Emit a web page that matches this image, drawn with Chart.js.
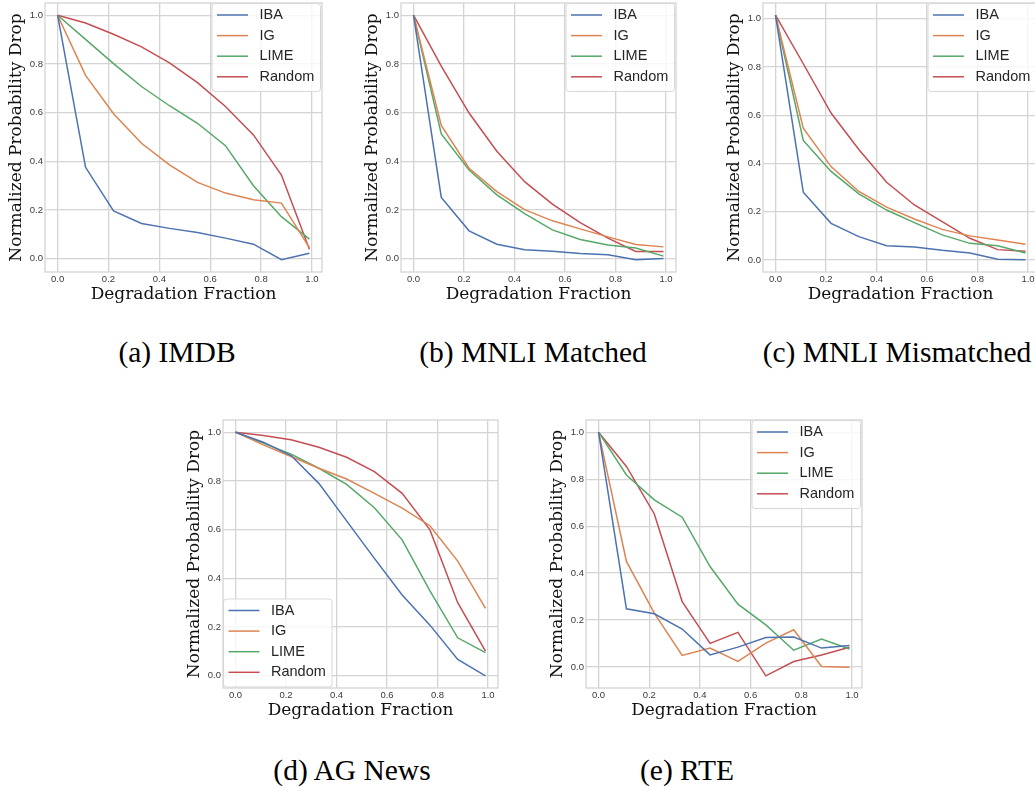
<!DOCTYPE html>
<html lang="en">
<head>
<meta charset="utf-8">
<script src="https://cdn.jsdelivr.net/npm/chart.js@4.4.1/dist/chart.umd.min.js"></script>
<style>
    html, body {margin:0; padding:0; background:#fff; overflow:hidden;}
    body {width:1035px; height:786px; position:relative;}
    canvas {position:absolute;}
    .caption {position:absolute; font-family:"Liberation Serif", serif; font-size:29.5px; color:#000;
              white-space:nowrap; transform:translate(-50%, -50%);}
</style>
</head>
<body>

<script type="text/javascript">
'use strict';

var fractions = [0, 0.11, 0.22, 0.33, 0.44, 0.55, 0.66, 0.77, 0.88, 0.99];
var methods = ['IBA', 'IG', 'LIME', 'Random'];
var tickValues = [0, 0.2, 0.4, 0.6, 0.8, 1.0];

var imdbIBA    = [1.0, 0.375, 0.196, 0.144, 0.124, 0.107, 0.084, 0.059, -0.005, 0.022];
var imdbIG     = [1.0, 0.753, 0.595, 0.474, 0.385, 0.313, 0.269, 0.242, 0.228, 0.045];
var imdbLIME   = [1.0, 0.901, 0.801, 0.707, 0.628, 0.556, 0.464, 0.299, 0.172, 0.080];
var imdbRandom = [1.0, 0.968, 0.922, 0.870, 0.804, 0.723, 0.625, 0.508, 0.343, 0.038];

var matchedIBA    = [1.0, 0.251, 0.114, 0.059, 0.036, 0.030, 0.021, 0.016, -0.005, 0.0];
var matchedIG     = [1.0, 0.547, 0.371, 0.275, 0.201, 0.155, 0.122, 0.089, 0.058, 0.048];
var matchedLIME   = [1.0, 0.512, 0.364, 0.262, 0.185, 0.118, 0.078, 0.056, 0.043, 0.010];
var matchedRandom = [1.0, 0.791, 0.598, 0.441, 0.316, 0.224, 0.148, 0.084, 0.029, 0.029];

var mismatchedIBA    = [1.014, 0.281, 0.152, 0.097, 0.059, 0.054, 0.040, 0.029, 0.003, 0.001];
var mismatchedIG     = [1.014, 0.546, 0.387, 0.284, 0.219, 0.170, 0.127, 0.100, 0.083, 0.065];
var mismatchedLIME   = [1.014, 0.495, 0.367, 0.274, 0.207, 0.155, 0.104, 0.069, 0.059, 0.029];
var mismatchedRandom = [1.014, 0.813, 0.609, 0.458, 0.322, 0.228, 0.159, 0.090, 0.043, 0.036];

var agIBA    = [1.0, 0.959, 0.904, 0.790, 0.636, 0.482, 0.332, 0.208, 0.067, 0.0];
var agIG     = [1.0, 0.948, 0.900, 0.852, 0.808, 0.749, 0.688, 0.616, 0.471, 0.277];
var agLIME   = [1.0, 0.955, 0.910, 0.852, 0.786, 0.690, 0.558, 0.349, 0.156, 0.095];
var agRandom = [1.0, 0.986, 0.969, 0.938, 0.897, 0.838, 0.749, 0.599, 0.300, 0.101];

var rteIBA    = [1.0, 0.248, 0.227, 0.162, 0.052, 0.085, 0.126, 0.128, 0.081, 0.092];
var rteIG     = [1.0, 0.450, 0.230, 0.050, 0.081, 0.024, 0.102, 0.159, 0.003, 0.0];
var rteLIME   = [1.0, 0.818, 0.712, 0.638, 0.428, 0.268, 0.180, 0.072, 0.119, 0.077];
var rteRandom = [1.0, 0.854, 0.652, 0.279, 0.101, 0.148, -0.037, 0.024, 0.052, 0.085];

// seaborn "deep" palette
var colors = ['#4c72b0', '#dd8452', '#55a868', '#c44e52'];
var gridColor = '#d4d4d4';

// frame = plot area in page pixels, corner = where the legend sits
var panels = [
    {caption:'(a) IMDB', series:[imdbIBA, imdbIG, imdbLIME, imdbRandom],
     frame:{x:45, y:3, w:277, h:269}, corner:'tr', cap:[177, 352]},
    {caption:'(b) MNLI Matched', series:[matchedIBA, matchedIG, matchedLIME, matchedRandom],
     frame:{x:401, y:3, w:275, h:269}, corner:'tr', cap:[533, 352]},
    {caption:'(c) MNLI Mismatched', series:[mismatchedIBA, mismatchedIG, mismatchedLIME, mismatchedRandom],
     frame:{x:763, y:3, w:275, h:269}, corner:'tr', cap:[897, 352]},
    {caption:'(d) AG News', series:[agIBA, agIG, agLIME, agRandom],
     frame:{x:223, y:420, w:275, h:268}, corner:'bl', cap:[352, 770]},
    {caption:'(e) RTE', series:[rteIBA, rteIG, rteLIME, rteRandom],
     frame:{x:586, y:420, w:276, h:268}, corner:'tr', cap:[687, 770]}
];

// spines plus an in-axes legend box
var frameAndLegend = {
    id: 'frameAndLegend',
    afterDatasetsDraw: function(chart, args, opts) {
        var a = chart.chartArea, ctx = chart.ctx;
        ctx.save();
        ctx.strokeStyle = gridColor;
        ctx.lineWidth = 1.3;
        ctx.strokeRect(a.left, a.top, a.right - a.left, a.bottom - a.top);

        var w = 108.5, h = 88;
        var bx = opts.corner === 'tr' ? a.right - w - 1.5 : a.left + 0.5;
        var by = opts.corner === 'tr' ? a.top + 0.5 : a.bottom - h - 1;
        ctx.beginPath();
        ctx.roundRect(bx, by, w, h, 3);
        ctx.fillStyle = 'rgba(255,255,255,0.8)';
        ctx.fill();
        ctx.strokeStyle = '#d8d8d8';
        ctx.lineWidth = 1;
        ctx.stroke();

        ctx.font = '14.5px "Liberation Sans"';
        ctx.textBaseline = 'middle';
        chart.data.datasets.forEach(function(ds, i) {
            var ry = by + 11.5 + i * 20.6;
            ctx.strokeStyle = ds.borderColor;
            ctx.lineWidth = 1.5;
            ctx.beginPath();
            ctx.moveTo(bx + 5, ry);
            ctx.lineTo(bx + 36, ry);
            ctx.stroke();
            ctx.fillStyle = '#262626';
            ctx.fillText(ds.label, bx + 47.5, ry);
        });
        ctx.restore();
    }
};

function fixedTicks(scale) {
    scale.ticks = tickValues.map(function(v) { return {value: v}; });
}

function drawPanel(p) {
    var f = p.frame;
    var canvas = document.createElement('canvas');
    canvas.width = f.w + 50;
    canvas.height = f.h + 37;
    canvas.style.left = (f.x - 46) + 'px';
    canvas.style.top = (f.y - 3) + 'px';
    document.body.appendChild(canvas);

    var all = [].concat.apply([], p.series);
    var lo = Math.min.apply(null, all), hi = Math.max.apply(null, all);
    var pad = 0.05 * (hi - lo);

    var tickFont = {family: 'Liberation Sans', size: 9.5};
    var titleFont = {family: 'DejaVu Serif', size: 17};

    new Chart(canvas, {
        type: 'line',
        data: {
            datasets: p.series.map(function(vals, i) {
                return {
                    label: methods[i],
                    data: fractions.map(function(x, j) { return {x: x, y: vals[j]}; }),
                    borderColor: colors[i],
                    backgroundColor: colors[i],
                    borderWidth: 1.5,
                    pointRadius: 0,
                    fill: false,
                    tension: 0
                };
            })
        },
        options: {
            responsive: false,
            animation: false,
            layout: {padding: {top: 3, right: 4, left: 0, bottom: 0}},
            plugins: {
                legend: {display: false},
                tooltip: {enabled: false},
                frameAndLegend: {corner: p.corner}
            },
            scales: {
                x: {
                    type: 'linear',
                    min: -0.0495, max: 1.0395,
                    afterBuildTicks: fixedTicks,
                    afterFit: function(s) { s.height = 34; s.paddingLeft = 0; s.paddingRight = 0; },
                    grid: {color: gridColor, lineWidth: 1.3, drawTicks: false},
                    border: {display: false},
                    ticks: {padding: 2, font: tickFont, color: '#3a3a3a', autoSkip: false, maxRotation: 0,
                            callback: function(v) { return v.toFixed(1); }},
                    title: {display: true, text: 'Degradation Fraction', font: titleFont, color: '#111',
                            padding: {top: 0, bottom: 1}}
                },
                y: {
                    type: 'linear',
                    min: lo - pad, max: hi + pad,
                    afterBuildTicks: fixedTicks,
                    // keep the plot area flush with the layout padding
                    afterFit: function(s) { s.width = 46; s.paddingTop = 0; s.paddingBottom = 0; },
                    grid: {color: gridColor, lineWidth: 1.3, drawTicks: false},
                    border: {display: false},
                    ticks: {padding: 2, font: tickFont, color: '#3a3a3a', autoSkip: false,
                            callback: function(v) { return v.toFixed(1); }},
                    title: {display: true, text: 'Normalized Probability Drop', font: titleFont, color: '#111',
                            padding: {top: 7.8, bottom: 0}}
                }
            }
        },
        plugins: [frameAndLegend]
    });

    var cap = document.createElement('div');
    cap.className = 'caption';
    cap.textContent = p.caption;
    cap.style.left = p.cap[0] + 'px';
    cap.style.top = p.cap[1] + 'px';
    document.body.appendChild(cap);
}

window.onload = function() {
    panels.forEach(drawPanel);
};
</script>
</body>
</html>
